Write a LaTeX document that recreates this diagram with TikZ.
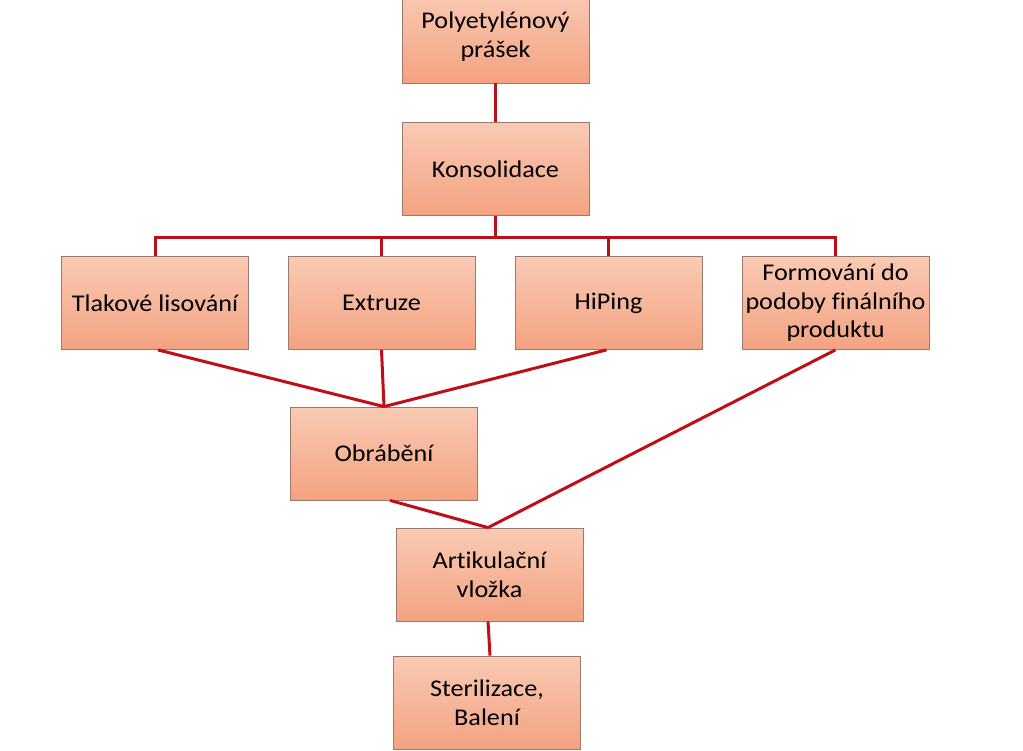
\documentclass[tikz,border=0pt]{standalone}
\usepackage{fontspec}
\setmainfont{Carlito}[FakeStretch=1.09,Ligatures=NoCommon]
\definecolor{boxtop}{HTML}{F9CAB4}
\definecolor{boxbot}{HTML}{F4A281}
\definecolor{boxline}{HTML}{9A7A6C}
\definecolor{conn}{HTML}{BE0F18}
\tikzset{
  procbox/.style={rectangle, draw=boxline, line width=0.8pt, top color=boxtop, bottom color=boxbot,
    minimum width=187pt, minimum height=93pt, inner sep=0pt, align=center,
    font=\fontsize{24pt}{28.5pt}\selectfont, text=black},
  link/.style={draw=conn, line width=3pt}
}
\begin{document}
\begin{tikzpicture}[x=1pt,y=-1pt]
\useasboundingbox (0,0) rectangle (1023,750);
\node[procbox] (pe) at (495.5,36.5) {Polyetylénový\\prášek};
\node[procbox] (kons) at (495.5,169) {Konsolidace};
\node[procbox] (tl) at (155,303) {Tlakové lisování};
\node[procbox] (ex) at (381.5,303) {Extruze};
\node[procbox] (hi) at (608.5,303) {HiPing};
\node[procbox] (fo) at (835.5,303) {Formování do\\podoby finálního\\produktu};
\node[procbox] (ob) at (384,453.5) {Obrábění};
\node[procbox] (ar) at (489.5,574.5) {Artikulační\\vložka};
\node[procbox] (st) at (487,702.5) {Sterilizace,\\Balení};
\coordinate (bus) at (495.5,237);
\draw[link] (pe.south) -- (kons.north);
\draw[link] (kons.south) -- (bus);
\draw[link] (tl.north) |- (bus) -| (fo.north);
\draw[link] (ex.north) -- (ex.north |- bus);
\draw[link] (hi.north) -- (hi.north |- bus);
\draw[link] ([xshift=3pt]tl.south) -- (ob.north);
\draw[link] (ex.south) -- (ob.north);
\draw[link] ([xshift=-2pt]hi.south) -- (ob.north);
\draw[link] (fo.south) -- ([xshift=-1.5pt]ar.north);
\draw[link] ([xshift=6pt]ob.south) -- ([xshift=-1.5pt]ar.north);
\draw[link] ([xshift=-1.5pt]ar.south) -- ([xshift=3pt]st.north);
\end{tikzpicture}
\end{document}
